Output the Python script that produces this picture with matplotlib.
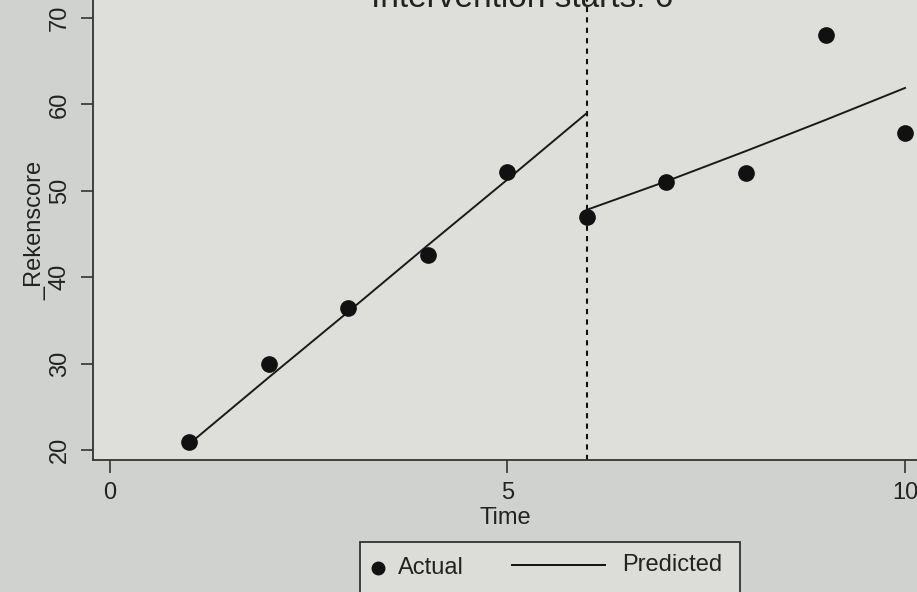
import matplotlib
matplotlib.use("Agg")
import matplotlib.pyplot as plt
from matplotlib.lines import Line2D
from matplotlib.patches import Rectangle

plt.rcParams['font.family'] = ['Liberation Sans', 'DejaVu Sans']

# Data
time = [1, 2, 3, 4, 5, 6, 7, 8, 9, 10]
actual = [20.9, 30.0, 36.4, 42.6, 52.2, 47.0, 51.0, 52.0, 68.0, 56.7]
pre_time = [1, 2, 3, 4, 5, 6]
pre_pred = [20.7, 28.4, 36.0, 43.7, 51.3, 59.0]
post_time = [6, 7, 8, 9, 10]
post_pred = [47.8, 51.1, 54.6, 58.2, 61.9]
intervention = 6
title = "Intervention starts: 6"
xticks = [0, 5, 10]
yticks = [20, 30, 40, 50, 60, 70]
legend_labels = ['Actual', 'Predicted']

W, H = 917, 592
bg = '#cfd2ce'
fig = plt.figure(figsize=(W / 100, H / 100), dpi=100, facecolor=bg)
ax = fig.add_axes([93 / W, 132 / H, 1 - 93 / W, 1 - 132 / H])
ax.set_facecolor('#dedfdb')

ax.plot(pre_time, pre_pred, color='#1a1a1a', lw=1.4, zorder=3)
ax.plot(post_time, post_pred, color='#1a1a1a', lw=1.4, zorder=3)
ax.plot(time, actual, 'o', color='#111111', ms=11, zorder=4)
ax.axvline(intervention, color='#111111', lw=1.5, ls=(0, (2.5, 2.5)), zorder=2)

ax.set_xlim(-0.21, 10.15)
ax.set_ylim(18.84, 72.08)
ax.set_xticks(xticks)
ax.set_yticks(yticks)
ax.tick_params(axis='both', direction='out', length=9, width=1.2, color='#333333',
               labelsize=17, labelcolor='#222222', pad=7)
for lab in ax.get_yticklabels():
    lab.set_rotation(90)
    lab.set_va('center')
for s in ['top', 'right']:
    ax.spines[s].set_visible(False)
for s in ['left', 'bottom']:
    ax.spines[s].set_color('#333333')
    ax.spines[s].set_linewidth(1.3)

ax.set_xlabel('Time', fontsize=17, color='#222222', labelpad=2)
ax.set_ylabel('_Rekenscore', fontsize=17, color='#222222', labelpad=2)

fig.text(522 / W, 1 - 7 / H, title, ha='center', va='baseline', fontsize=24, color='#222222')

# Legend box drawn manually (Stata style)
fig.patches.append(Rectangle((360 / W, -0.05), 380 / W, 0.05 + (H - 542) / H,
                             transform=fig.transFigure, facecolor='#dcddd9',
                             edgecolor='#333333', lw=1.3))
fig.add_artist(Line2D([378 / W], [1 - 568 / H], marker='o', ls='none', color='#111111',
                      ms=9, transform=fig.transFigure))
fig.text(398 / W, 1 - 568 / H, legend_labels[0], ha='left', va='center', fontsize=17,
         color='#222222')
fig.add_artist(Line2D([512 / W, 605 / W], [1 - 565 / H, 1 - 565 / H], color='#111111',
                      lw=1.4, transform=fig.transFigure))
fig.text(622 / W, 1 - 565 / H, legend_labels[1], ha='left', va='center', fontsize=17,
         color='#222222')

fig.savefig('out.png', dpi=100, facecolor=bg)
